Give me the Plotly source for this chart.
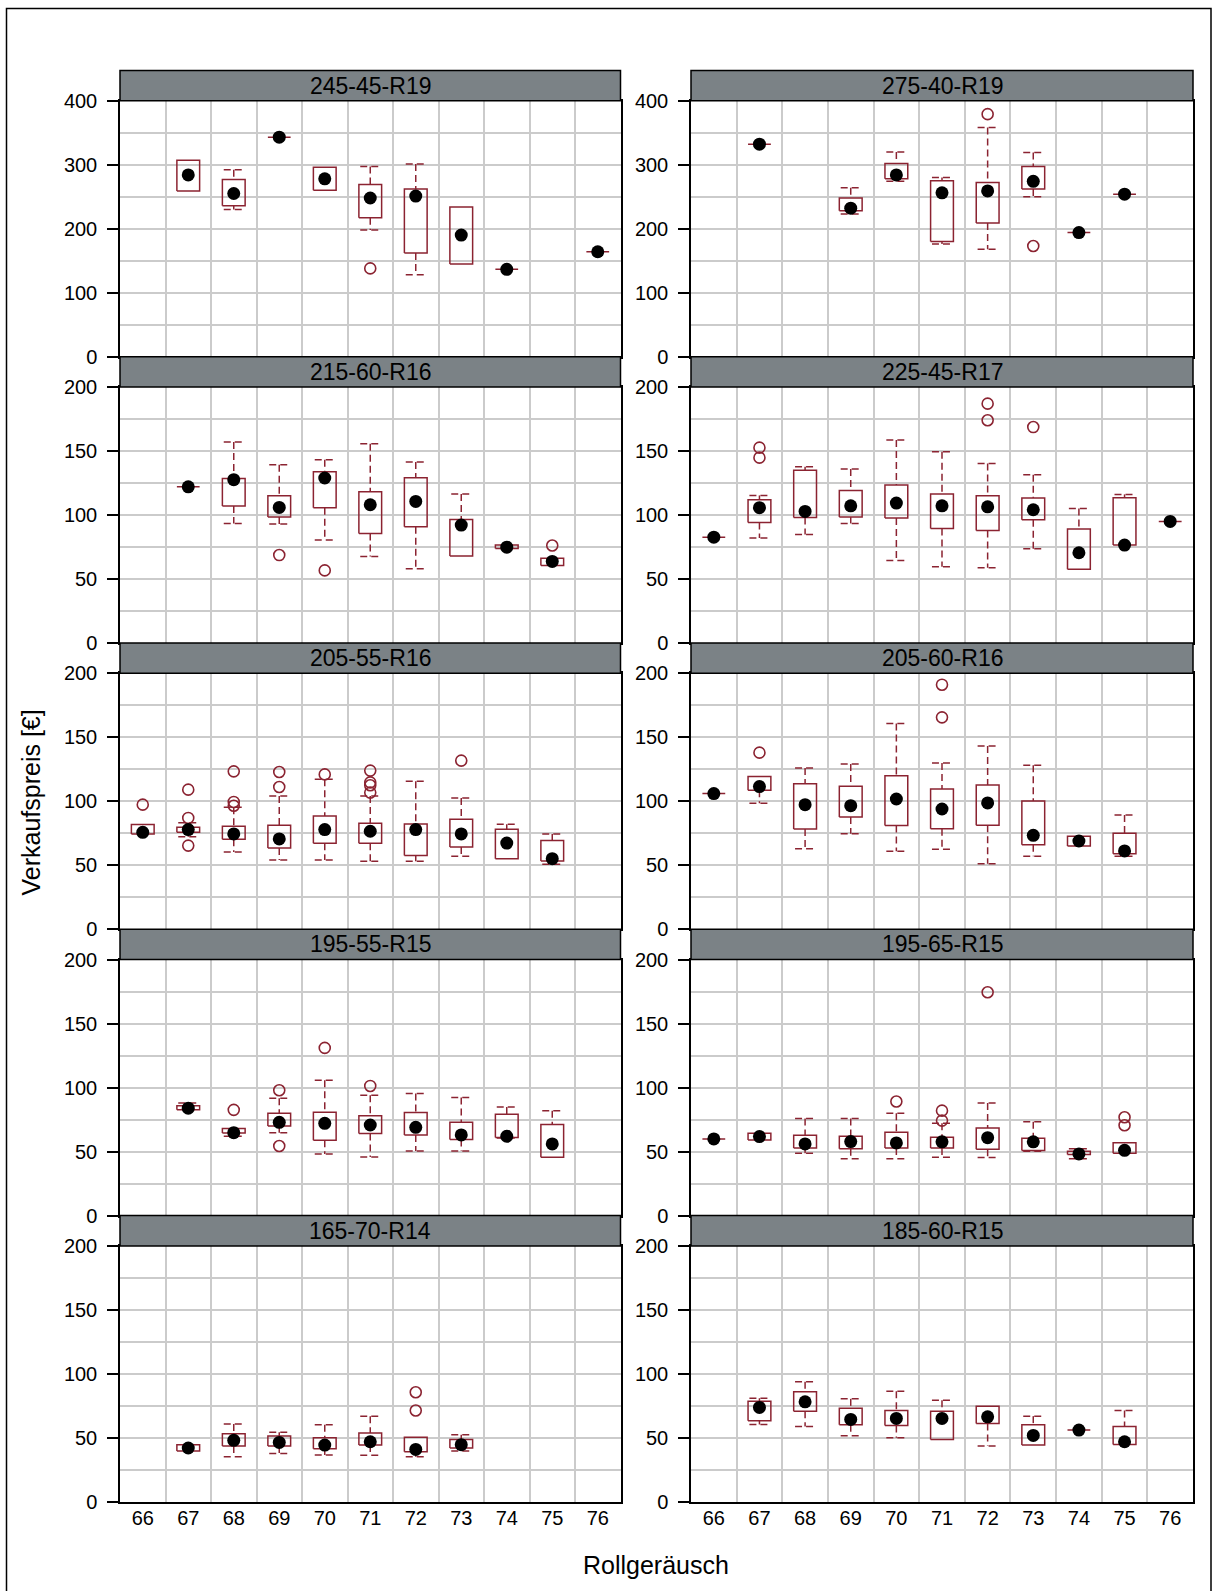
import plotly.graph_objects as go

W, H = 1219, 1591

CATEGORIES = list(range(66, 77))
X_TICK_LABELS = [str(c) for c in CATEGORIES]
PANELS = ["245-45-R19", "275-40-R19", "215-60-R16", "225-45-R17", "205-55-R16",
          "205-60-R16", "195-55-R15", "195-65-R15", "165-70-R14", "185-60-R15"]
Y_MAX = [400, 400, 200, 200, 200, 200, 200, 200, 200, 200]
Y_TICK_STEP = [100, 100, 50, 50, 50, 50, 50, 50, 50, 50]
Y_GRID_STEP = [50, 50, 25, 25, 25, 25, 25, 25, 25, 25]

X_POS = [
    [67, 68, 69, 70, 71, 72, 73, 74, 76],
    [67, 69, 70, 71, 72, 73, 74, 75],
    [67, 68, 69, 70, 71, 72, 73, 74, 75],
    [66, 67, 68, 69, 70, 71, 72, 73, 74, 75, 76],
    [66, 67, 68, 69, 70, 71, 72, 73, 74, 75],
    [66, 67, 68, 69, 70, 71, 72, 73, 74, 75],
    [67, 68, 69, 70, 71, 72, 73, 74, 75],
    [66, 67, 68, 69, 70, 71, 72, 73, 74, 75],
    [67, 68, 69, 70, 71, 72, 73],
    [67, 68, 69, 70, 71, 72, 73, 74, 75],
]
Q1 = [
    [259, 236, 343, 260, 217, 162, 145, 136.5, 164],
    [332, 228, 278, 180, 209, 262, 194, 254],
    [122, 107, 98.4, 105.7, 85.6, 90.8, 67.9, 73.9, 60.6],
    [82.7, 94.2, 98.1, 98.4, 97.6, 89.5, 87.9, 96.3, 57.7, 76.5, 95],
    [74.5, 75.8, 70.3, 63.5, 67.2, 67.2, 57.6, 64.3, 55.2, 53.4],
    [106, 108.6, 78.4, 87.8, 81, 78.6, 81.2, 66.1, 65.1, 59.1],
    [82.6, 64.6, 70, 58.9, 64.1, 63, 59.4, 61, 45.6],
    [59.9, 59.1, 52.9, 52.3, 52.9, 52.9, 51.8, 50.8, 47.7, 48.7],
    [39.7, 43.6, 43.6, 41.6, 44.4, 39.2, 42.1],
    [63.4, 70.9, 60.3, 59.7, 48.8, 61.3, 44.4, 56.1, 44.9],
]
MEDIAN = [
    [284, 255, 343, 278, 248, 251, 190, 136.5, 164],
    [332, 232, 284, 256, 259, 274, 194, 254],
    [122, 127.6, 105.9, 128.9, 108, 110.6, 92.1, 74.9, 63.7],
    [82.7, 105.7, 102.8, 107.2, 109.3, 107.2, 106.4, 104.1, 70.5, 76.5, 95],
    [75.8, 77.9, 74.5, 70.6, 77.9, 76.6, 77.9, 74.5, 67.4, 55.2],
    [106, 111.5, 97.4, 96.6, 101.8, 94, 98.7, 73.4, 69, 61.2],
    [83.9, 64.8, 72.9, 72.1, 70.8, 69, 63, 62, 56],
    [59.9, 61.7, 56, 57.8, 56.8, 57.6, 60.9, 57.6, 48.2, 51],
    [42.1, 48.1, 46.5, 44.4, 47, 41, 44.7],
    [73.8, 78.2, 64.4, 65.2, 65.2, 66.5, 51.9, 56.1, 47],
]
Q3 = [
    [307, 277, 343, 296, 269, 262, 234, 136.5, 164],
    [332, 248, 302, 275, 272, 297, 194, 254],
    [122, 128.6, 115, 133.8, 118.2, 129.1, 96.5, 76.5, 66.3],
    [82.7, 111.9, 134.9, 119.2, 123.4, 116.4, 115, 113.2, 89, 113.5, 95],
    [81.8, 79.7, 80.5, 81.3, 88.5, 82.8, 82.3, 85.9, 78.1, 69.3],
    [106, 119.3, 113.8, 111.7, 120, 109.6, 112.8, 100.3, 72.7, 75],
    [85.9, 68, 79.9, 80.7, 78.1, 80.5, 72.9, 79.2, 71.1],
    [59.9, 64.3, 62.8, 62, 65.1, 61.2, 68.5, 60.4, 50.3, 57],
    [44.7, 53.2, 51.4, 50.1, 53.8, 50.6, 48.8],
    [78.7, 86, 73.2, 71.4, 70.9, 74.8, 60.3, 56.1, 59],
]
WHISKER_LO = [
    [259, 230, 343, 260, 198, 128, 145, 136.5, 164],
    [332, 223, 274, 176, 168, 250, 194, 254],
    [122, 93.4, 92.9, 80.4, 67.6, 58, 67.9, 73.9, 60.6],
    [82.7, 82, 84.8, 93.4, 64.5, 59.5, 58.8, 73.6, 57.7, 76.5, 95],
    [74.5, 72.4, 60.4, 54.2, 54.2, 53.1, 53.1, 57, 55.2, 50.8],
    [106, 98.4, 63, 74.7, 60.9, 62.5, 51.3, 57, 65.1, 57],
    [82.6, 62, 64.8, 48.2, 45.8, 50.5, 50.5, 60.7, 45.6],
    [59.9, 59.1, 48.7, 44.5, 44.5, 45.6, 45.3, 50.3, 44.5, 48.7],
    [39.7, 35.3, 37.9, 36.6, 36.4, 35.3, 39.7],
    [60.5, 59, 51.7, 50.1, 48.8, 43.6, 44.4, 56.1, 44.9],
]
WHISKER_HI = [
    [307, 292, 343, 296, 297, 301, 234, 136.5, 164],
    [332, 264, 320, 280, 358, 319, 194, 254],
    [122, 157, 139.3, 143.2, 155.7, 141.4, 116.4, 76.5, 66.3],
    [82.7, 115.3, 137.7, 135.9, 158.6, 149.4, 140.3, 131.5, 105.1, 116.1, 95],
    [81.8, 83.3, 95.3, 104.2, 117.2, 104.2, 115.6, 102.6, 82, 74.5],
    [106, 119.3, 126, 129.2, 160.7, 130, 143.2, 128.1, 72.7, 89.3],
    [88, 68, 91.7, 105.7, 94, 95.3, 92.2, 84.9, 82],
    [59.9, 64.3, 75.8, 75.8, 79.9, 72.1, 88, 73.4, 52.3, 57],
    [44.7, 60.8, 54.5, 60.3, 67, 50.6, 52.5],
    [81, 93.8, 80.5, 86.5, 79.5, 74.8, 67, 56.1, 71.4],
]
OUTLIER_X = [
    [71],
    [72, 73],
    [69, 70, 75],
    [67, 67, 72, 72, 73],
    [66, 67, 67, 67, 68, 68, 68, 69, 69, 70, 71, 71, 71, 71, 73],
    [67, 71, 71],
    [68, 69, 69, 70, 71],
    [70, 71, 71, 72, 75, 75],
    [72, 72],
    [],
]
OUTLIER_Y = [
    [138],
    [379, 173],
    [68.7, 56.7, 76.2],
    [152.6, 144.8, 187, 174, 168.7],
    [97.4, 109.1, 87, 65.4, 123.4, 99.5, 96.5, 122.9, 111.2, 121, 124, 114.8, 112.5, 106.8, 131.8],
    [138, 191.1, 165.6],
    [82.6, 97.9, 54.4, 131, 101.3],
    [89.1, 82, 74.2, 174.5, 76.8, 70.6],
    [85.7, 71.4],
    [],
]

# ---- style ----
RED = "#8B2331"
GRID = "#CBCBCB"
STRIP = "#7B8286"
FONT = "Liberation Sans, Arial, sans-serif"
BOX_HALF = 0.25
CAP_HALF = 0.22

# ---- layout geometry (pixels) ----
COL_X = [(120, 620.5), (691, 1193)]
ROW_TOP0 = 100.7
ROW_PITCH = 286.3
PLOT_H = 256
STRIP_H = 30.3


def px_x(v):
    return v / W


def px_y(v):
    return 1 - v / H


fig = go.Figure()
layout = dict(
    template="none",
    width=W, height=H, margin=dict(l=0, r=0, t=0, b=0, pad=0, autoexpand=False),
    paper_bgcolor="white", plot_bgcolor="white", showlegend=False,
    font=dict(family=FONT, color="black", size=20),
)
shapes = []
annotations = []

for i, name in enumerate(PANELS):
    r, c = divmod(i, 2)
    x0, x1 = COL_X[c]
    top = ROW_TOP0 + r * ROW_PITCH
    bot = top + PLOT_H
    xa = "xaxis" if i == 0 else f"xaxis{i + 1}"
    ya = "yaxis" if i == 0 else f"yaxis{i + 1}"
    xr = "x" if i == 0 else f"x{i + 1}"
    yr = "y" if i == 0 else f"y{i + 1}"

    layout[xa] = dict(
        domain=[px_x(x0), px_x(x1)], anchor=yr, range=[65.5, 76.5], automargin=False,
        tickmode="array", tickvals=CATEGORIES, ticktext=X_TICK_LABELS,
        showticklabels=(r == 4), ticks="", showgrid=False, zeroline=False,
        showline=True, linecolor="black", linewidth=1.5, mirror=True,
        tickfont=dict(size=20, color="black"), ticklabelstandoff=-3,
        minor=dict(tickmode="array", tickvals=[v + 0.5 for v in CATEGORIES[:-1]],
                   showgrid=True, gridcolor=GRID, gridwidth=1.5, ticks=""),
    )
    ymax = Y_MAX[i]
    layout[ya] = dict(
        domain=[px_y(bot), px_y(top)], anchor=xr, range=[0, ymax], automargin=False,
        tickmode="linear", tick0=0, dtick=Y_TICK_STEP[i],
        ticks="outside", ticklen=11, tickwidth=1.5, tickcolor="black",
        showgrid=True, gridcolor=GRID, gridwidth=1.5, zeroline=False,
        showline=True, linecolor="black", linewidth=1.5, mirror=True,
        tickfont=dict(size=20, color="black"), ticklabelstandoff=6,
        minor=dict(dtick=Y_GRID_STEP[i], showgrid=True, gridcolor=GRID,
                   gridwidth=1.5, ticks=""),
    )

    # strip
    shapes.append(dict(type="rect", xref="paper", yref="paper",
                       x0=px_x(x0), x1=px_x(x1), y0=px_y(top), y1=px_y(top - STRIP_H),
                       fillcolor=STRIP, line=dict(color="black", width=1.5), layer="above"))
    annotations.append(dict(text=name, xref="paper", yref="paper",
                            x=px_x((x0 + x1) / 2), y=px_y(top - STRIP_H / 2),
                            xanchor="center", yanchor="middle", showarrow=False,
                            font=dict(size=23, color="black", family=FONT)))

    xs = X_POS[i]
    # boxes
    bx, by = [], []
    for x, q1, q3 in zip(xs, Q1[i], Q3[i]):
        bx += [x - BOX_HALF, x + BOX_HALF, x + BOX_HALF, x - BOX_HALF, x - BOX_HALF, None]
        by += [q1, q1, q3, q3, q1, None]
    fig.add_trace(go.Scatter(x=bx, y=by, mode="lines", xaxis=xr, yaxis=yr,
                             line=dict(color=RED, width=1.5), hoverinfo="skip"))
    # whiskers
    wx, wy = [], []
    for x, lo, q1, q3, hi in zip(xs, WHISKER_LO[i], Q1[i], Q3[i], WHISKER_HI[i]):
        if hi > q3:
            wx += [x, x, None, x - CAP_HALF, x + CAP_HALF, None]
            wy += [hi, q3, None, hi, hi, None]
        if lo < q1:
            wx += [x, x, None, x - CAP_HALF, x + CAP_HALF, None]
            wy += [q1, lo, None, lo, lo, None]
    if wx:
        fig.add_trace(go.Scatter(x=wx, y=wy, mode="lines", xaxis=xr, yaxis=yr,
                                 line=dict(color=RED, width=1.5, dash="7px,4px"),
                                 hoverinfo="skip"))
    # outliers
    if OUTLIER_X[i]:
        fig.add_trace(go.Scatter(x=OUTLIER_X[i], y=OUTLIER_Y[i], mode="markers",
                                 xaxis=xr, yaxis=yr,
                                 marker=dict(symbol="circle-open", size=11,
                                             color=RED, line=dict(width=1.6, color=RED))))
    # medians
    fig.add_trace(go.Scatter(x=xs, y=MEDIAN[i], mode="markers", xaxis=xr, yaxis=yr,
                             marker=dict(symbol="circle", size=13, color="black",
                                         line=dict(width=0))))

# outer frame (bottom edge lies just outside the page, as in the reference)
shapes.append(dict(type="rect", xref="paper", yref="paper",
                   x0=px_x(6.5), x1=px_x(1211), y0=px_y(1597), y1=px_y(8.5),
                   line=dict(color="black", width=1.5), fillcolor="rgba(0,0,0,0)"))
annotations.append(dict(text="Rollgeräusch", xref="paper", yref="paper",
                        x=px_x(656), y=px_y(1565), xanchor="center", yanchor="middle",
                        showarrow=False, font=dict(size=25, family=FONT, color="black")))
annotations.append(dict(text="Verkaufspreis [€]", xref="paper", yref="paper",
                        x=px_x(30.5), y=px_y(803), xanchor="center", yanchor="middle",
                        textangle=-90, showarrow=False,
                        font=dict(size=25, family=FONT, color="black")))

layout["shapes"] = shapes
layout["annotations"] = annotations
fig.update_layout(**layout)
fig.write_html("out.html", config={"displayModeBar": False},
               post_script="document.body.style.margin='0';document.body.style.overflow='hidden';")
